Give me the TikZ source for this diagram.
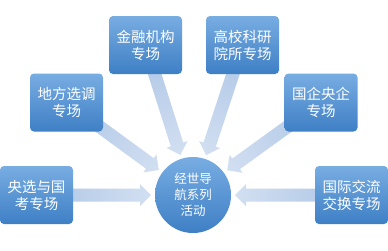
\documentclass[tikz,border=0pt]{standalone}
\usepackage{fontspec}
\newfontfamily\cjk{Noto Sans CJK SC}
\usetikzlibrary{calc}

\definecolor{boxtop}{RGB}{120,173,226}
\definecolor{boxbot}{RGB}{62,127,197}
\definecolor{arrtail}{RGB}{174,198,230}
\definecolor{arrhead}{RGB}{210,223,241}

\pgfdeclarelayer{background}
\pgfsetlayers{background,main}

% 块状箭头: 从 #1 指向 #2
\newcommand\blockarrow[2]{%
  \path let \p1=(#1), \p2=($(#2)!42pt!(#1)$),
    \n1={atan2(\y2-\y1,\x2-\x1)}, \n2={veclen(\x2-\x1,\y2-\y1)} in
    \pgfextra{\xdef\arrang{\n1}\xdef\arrlen{\n2}\xdef\arrx{\x1}\xdef\arry{\y1}};
  \begin{scope}[transform canvas={shift={(\arrx,\arry)}, rotate=\arrang}]
    \shade[left color=arrtail, right color=arrhead]
      (0pt,-6.5pt) -- (\arrlen-11pt,-6.5pt) -- (\arrlen-11pt,-11pt)
      -- (\arrlen,0pt) -- (\arrlen-11pt,11pt) -- (\arrlen-11pt,6.5pt)
      -- (0pt,6.5pt) -- cycle;
  \end{scope}}

\begin{document}
\begin{tikzpicture}[x=1pt, y=-1pt,
    zone/.style = {rounded corners=4pt, top color=boxtop, bottom color=boxbot,
      minimum width=73pt, minimum height=58pt, inner sep=0pt, text=white,
      align=center, font=\cjk\fontsize{14.5}{17}\selectfont},
    hub/.style = {circle, top color=boxtop, bottom color=boxbot,
      minimum size=76pt, inner sep=0pt, text=white,
      align=center, font=\cjk\fontsize{12.5}{16}\selectfont}]
    \useasboundingbox (0,0) rectangle (388,250);

    % 坐标定义
    \node[hub] (hub) at (193,195) {经世导\\航系列\\活动};
    \node[zone] (b1) at (36.5,195) {央选与国\\考专场};
    \node[zone] (b2) at (66.5,102.5) {地方选调\\专场};
    \node[zone] (b3) at (145.5,45) {金融机构\\专场};
    \node[zone] (b4) at (242.5,45) {高校科研\\院所专场};
    \node[zone] (b5) at (321,102.5) {国企央企\\专场};
    \node[zone] (b6) at (351.5,195) {国际交流\\交换专场};

    % 箭头定义
    \begin{pgfonlayer}{background}
    \fill[white] (0,0) rectangle (388,250);
    \foreach \b in {b1,b2,b3,b4,b5,b6}
      \blockarrow{\b}{hub};
    \end{pgfonlayer}
\end{tikzpicture}
\end{document}
